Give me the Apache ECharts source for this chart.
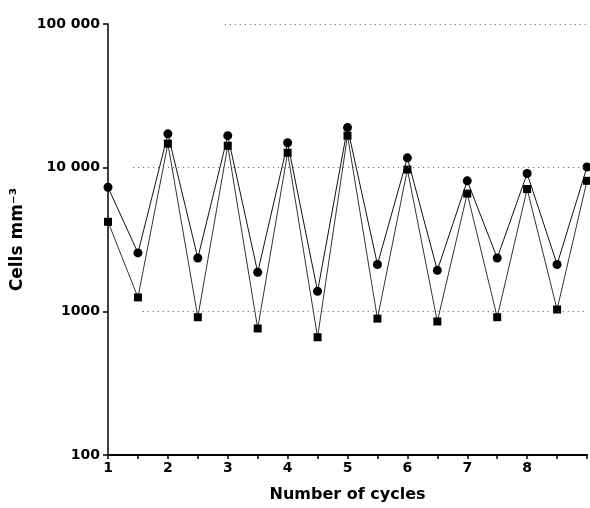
<!DOCTYPE html>
<html><head><meta charset="utf-8">
<script src="https://cdn.jsdelivr.net/npm/echarts@6/dist/echarts.min.js"></script>
<style>html,body{margin:0;padding:0;background:#fff}#c{width:590px;height:508px}</style>
</head><body><div id="c"></div>
<script>
const cycles = [1, 1.5, 2, 2.5, 3, 3.5, 4, 4.5, 5, 5.5, 6, 6.5, 7, 7.5, 8, 8.5, 9];
const circleValues = [7300, 2550, 17200, 2350, 16700, 1870, 14900, 1380, 19000, 2120, 11700, 1930, 8100, 2350, 9100, 2120, 10100];
const squareValues = [4200, 1250, 14700, 910, 14200, 760, 12700, 660, 16700, 890, 9700, 850, 6600, 910, 7100, 1030, 8100];
const xTickLabels = ['1', '2', '3', '4', '5', '6', '7', '8'];
const yTickLabels = {100: '100', 1000: '1000', 10000: '10 000', 100000: '100 000'};
const gridLines = [[100000, 2.95], [10000, 1.42], [1000, 1.58]];

const font = '"DejaVu Sans", sans-serif';
const chart = echarts.init(document.getElementById('c'));
const pair = (xs, ys) => xs.map((x, i) => [x, ys[i]]);
chart.setOption({
  animation: false,
  grid: {left: 108, right: 2, top: 24, bottom: 53},
  xAxis: {
    type: 'value', min: 1, max: 9, interval: 0.5,
    name: 'Number of cycles', nameLocation: 'middle', nameGap: 32,
    nameTextStyle: {fontFamily: font, fontWeight: 'bold', fontSize: 16, color: '#000'},
    axisLine: {lineStyle: {color: '#000', width: 2}},
    axisTick: {show: true, length: 4, lineStyle: {color: '#000', width: 1.5}},
    splitLine: {show: false},
    axisLabel: {
      margin: 6, fontFamily: font, fontWeight: 'bold', fontSize: 14, color: '#000',
      formatter: v => xTickLabels.includes(String(v)) ? String(v) : ''
    }
  },
  yAxis: {
    type: 'log', logBase: 10, min: 100, max: 100000,
    name: 'Cells mm⁻³', nameLocation: 'middle', nameGap: 80,
    nameTextStyle: {fontFamily: font, fontWeight: 'bold', fontSize: 17, color: '#000'},
    axisLine: {show: true, lineStyle: {color: '#000', width: 1.5}},
    axisTick: {show: true, length: 5, lineStyle: {color: '#000', width: 1.5}},
    minorTick: {show: false},
    splitLine: {show: false},
    axisLabel: {
      margin: 8, fontFamily: font, fontWeight: 'bold', fontSize: 14, color: '#000',
      formatter: v => yTickLabels[Math.round(v)] || ''
    }
  },
  series: [
    {
      type: 'line', data: pair(cycles, circleValues), symbol: 'circle', symbolSize: 9,
      lineStyle: {color: '#111', width: 1}, itemStyle: {color: '#000'},
      markLine: {
        silent: true, symbol: 'none', label: {show: false},
        lineStyle: {type: [1, 4], color: '#555', width: 1},
        data: gridLines.map(([y, x0]) => [{coord: [x0, y]}, {coord: [9, y]}])
      }
    },
    {
      type: 'line', data: pair(cycles, squareValues), symbol: 'rect', symbolSize: 8,
      lineStyle: {color: '#333', width: 1}, itemStyle: {color: '#000'}
    }
  ]
});
</script></body></html>
